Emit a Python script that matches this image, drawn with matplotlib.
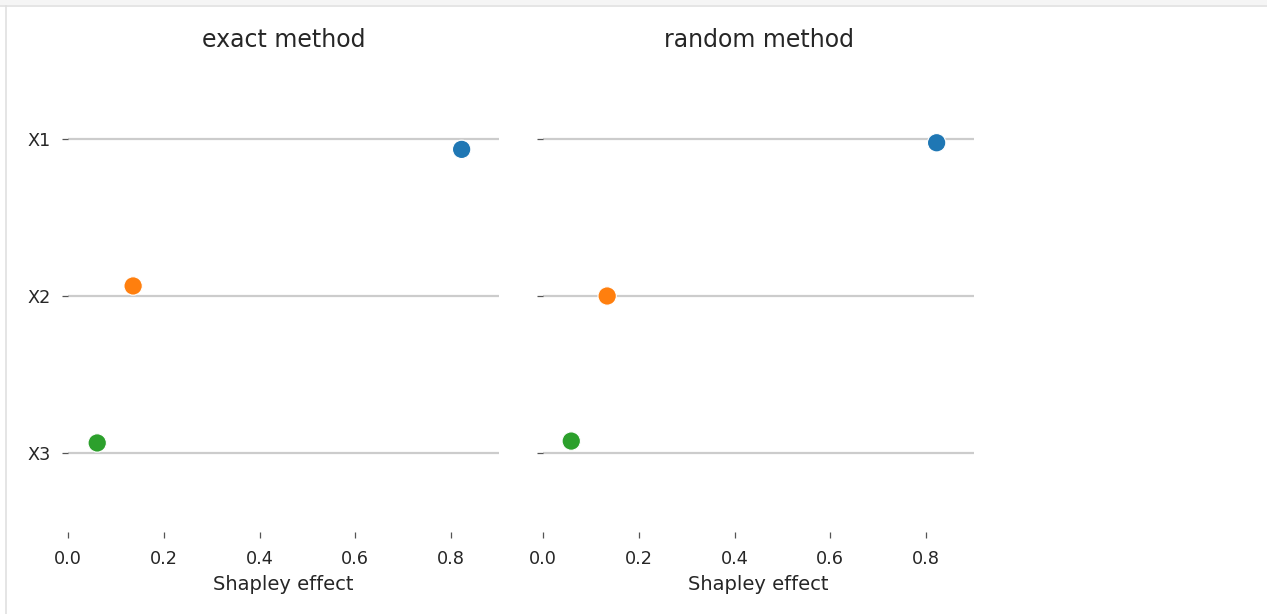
import numpy as np
import matplotlib.pyplot as plt
from matplotlib.patches import Rectangle
from matplotlib.lines import Line2D

# Shapley effects per input, for the two estimation methods
features = ["X1", "X2", "X3"]
methods = ["exact method", "random method"]
effects_exact = [0.822, 0.136, 0.061]
effects_random = [0.822, 0.134, 0.059]
# strip jitter (in category units) as drawn
jitter_exact = [0.066, -0.064, -0.064]
jitter_random = [0.024, 0.0, -0.076]
colors = ["#1f77b4", "#ff7f0e", "#2ca02c"]
xticks = [0.0, 0.2, 0.4, 0.6, 0.8]

plt.rcParams["font.family"] = ["DejaVu Sans"]
text_c = "#262626"

W, H = 1267, 614
fig = plt.figure(figsize=(W / 100, H / 100), dpi=100)

# notebook cell frame
fig.patches.append(Rectangle((0, 1 - 5 / H), 1, 5 / H, transform=fig.transFigure,
                             facecolor="#f5f5f5", edgecolor="none", zorder=0))
fig.lines.append(Line2D([0, 1], [1 - 5.5 / H] * 2, transform=fig.transFigure,
                        color="#e0e0e0", lw=1.2))
fig.lines.append(Line2D([5.5 / W] * 2, [0, 1 - 5.5 / H], transform=fig.transFigure,
                        color="#e0e0e0", lw=1.2))

lefts = [68, 543]
axw, top, bot = 431, 60.5, 531.5
data = [(effects_exact, jitter_exact), (effects_random, jitter_random)]

for i, (vals, jit) in enumerate(data):
    ax = fig.add_axes([lefts[i] / W, (H - bot) / H, axw / W, (bot - top) / H])
    ypos = np.arange(len(features)) + np.array(jit)
    ax.scatter(vals, ypos, s=175, c=colors, edgecolors="white", linewidths=0.8, zorder=3)
    ax.set_xlim(0, 0.9)
    ax.set_ylim(2.5, -0.5)
    ax.set_yticks(range(len(features)))
    ax.set_yticklabels(features if i == 0 else [])
    ax.set_xticks(xticks)
    ax.set_xticklabels([f"{t:.1f}" for t in xticks])
    ax.grid(axis="y", color="#cccccc", lw=1.6, zorder=0)
    ax.grid(axis="x", visible=False)
    for s in ax.spines.values():
        s.set_visible(False)
    ax.tick_params(axis="both", length=4.5, width=0.9, color="#555555",
                   labelcolor=text_c, labelsize=12.7)
    ax.tick_params(axis="x", pad=9)
    ax.tick_params(axis="y", pad=8)
    ax.set_xlabel("Shapley effect", fontsize=14, color=text_c, labelpad=5)
    ax.set_title(methods[i], fontsize=17, color=text_c, pad=9.5)

fig.savefig("out.png", dpi=100)
